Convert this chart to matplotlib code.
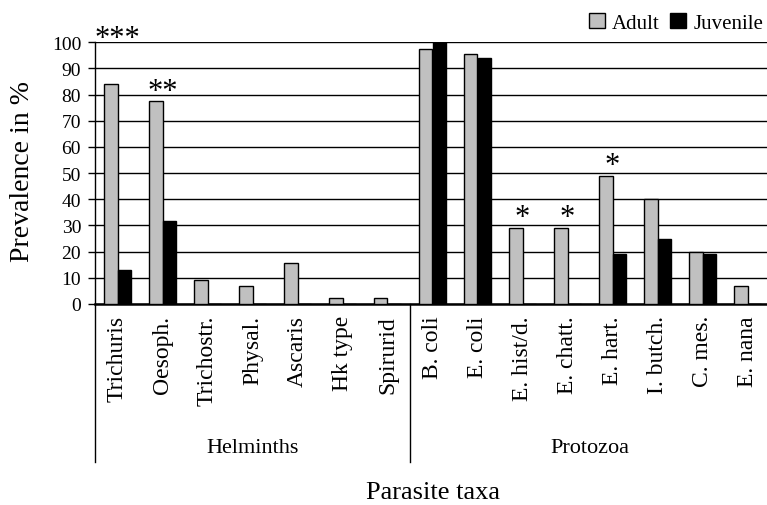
import numpy as np
import matplotlib
matplotlib.use("Agg")
import matplotlib.pyplot as plt
from matplotlib.patches import Patch

plt.rcParams['font.family'] = ['Liberation Serif', 'DejaVu Serif']

# ---- data ----
taxa = ['Trichuris', 'Oesoph.', 'Trichostr.', 'Physal.', 'Ascaris', 'Hk type', 'Spirurid',
        'B. coli', 'E. coli', 'E. hist/d.', 'E. chatt.', 'E. hart.', 'I. butch.', 'C. mes.', 'E. nana']
adult = [84, 77.5, 9, 6.7, 15.7, 2.3, 2.3,
         97.5, 95.5, 29, 29, 49, 40, 20, 6.7]
juvenile = [13, 31.6, 0, 0, 0, 0, 0,
            100, 94, 0, 0, 19, 25, 19, 0]
groups = ['Helminths', 'Protozoa']
group_sizes = [7, 8]
signif = {'Trichuris': '***', 'Oesoph.': '**', 'E. hist/d.': '*', 'E. chatt.': '*', 'E. hart.': '*'}

W, H = 767, 506
fig = plt.figure(figsize=(W / 100, H / 100), dpi=100)
# axes runs slightly past the right edge, like the original crop
ax = fig.add_axes([95 / W, 1 - 305 / H, 675 / W, (305 - 43.3) / H])

x = np.arange(len(taxa))
bw = 0.3
ax.bar(x - bw / 2, adult, bw, color='#c0c0c0', edgecolor='black', linewidth=1, zorder=3)
ax.bar(x + bw / 2, juvenile, bw, color='black', edgecolor='black', linewidth=1, zorder=3)

ax.set_xlim(-0.5, len(taxa) - 0.5)
ax.set_ylim(0, 100)
ax.set_yticks(np.arange(0, 101, 10))
ax.yaxis.grid(True, color='black', linewidth=1, zorder=0)
ax.set_axisbelow(True)
ax.tick_params(axis='y', direction='out', length=5, width=1, labelsize=14, pad=5)
ax.set_xticks(x)
ax.set_xticklabels(taxa, rotation=90, fontsize=17)
ax.tick_params(axis='x', length=0, pad=8)

for s in ['top', 'right']:
    ax.spines[s].set_visible(False)
ax.spines['bottom'].set_linewidth(1.8)
ax.spines['left'].set_linewidth(1)

# significance stars
for i, t in enumerate(taxa):
    if t in signif:
        yy = adult[i] + 1
        if t == 'Trichuris':
            yy = 98.5
        ax.text(i, yy, signif[t], ha='center', va='baseline', fontsize=22, clip_on=False)

# group dividers and labels under the axis
trans = ax.get_xaxis_transform()
low = -(463 - 305) / (305 - 43.3)
start = -0.5
for g, n in zip(groups, group_sizes):
    ax.plot([start, start], [0, low], color='black', lw=1, transform=trans, clip_on=False)
    ax.text(start + n / 2, -(449 - 305) / (305 - 43.3), g, ha='center', va='center',
            fontsize=16, transform=trans)
    start += n

fig.text(23 / W, 1 - 172 / H, 'Prevalence in %', rotation=90, ha='center', va='center', fontsize=20)
fig.text((95 + 675 / 2) / W, 1 - 493 / H, 'Parasite taxa', ha='center', va='center', fontsize=19)

handles = [Patch(facecolor='#c0c0c0', edgecolor='black', linewidth=1),
           Patch(facecolor='black', edgecolor='black')]
fig.legend(handles, ['Adult', 'Juvenile'], loc='center right', bbox_to_anchor=(763 / W, 1 - 24 / H),
           ncol=2, frameon=False, fontsize=15, handlelength=0.75, handleheight=0.75,
           handletextpad=0.35, columnspacing=0.5, borderaxespad=0, borderpad=0)

fig.savefig('out.png', dpi=100)
